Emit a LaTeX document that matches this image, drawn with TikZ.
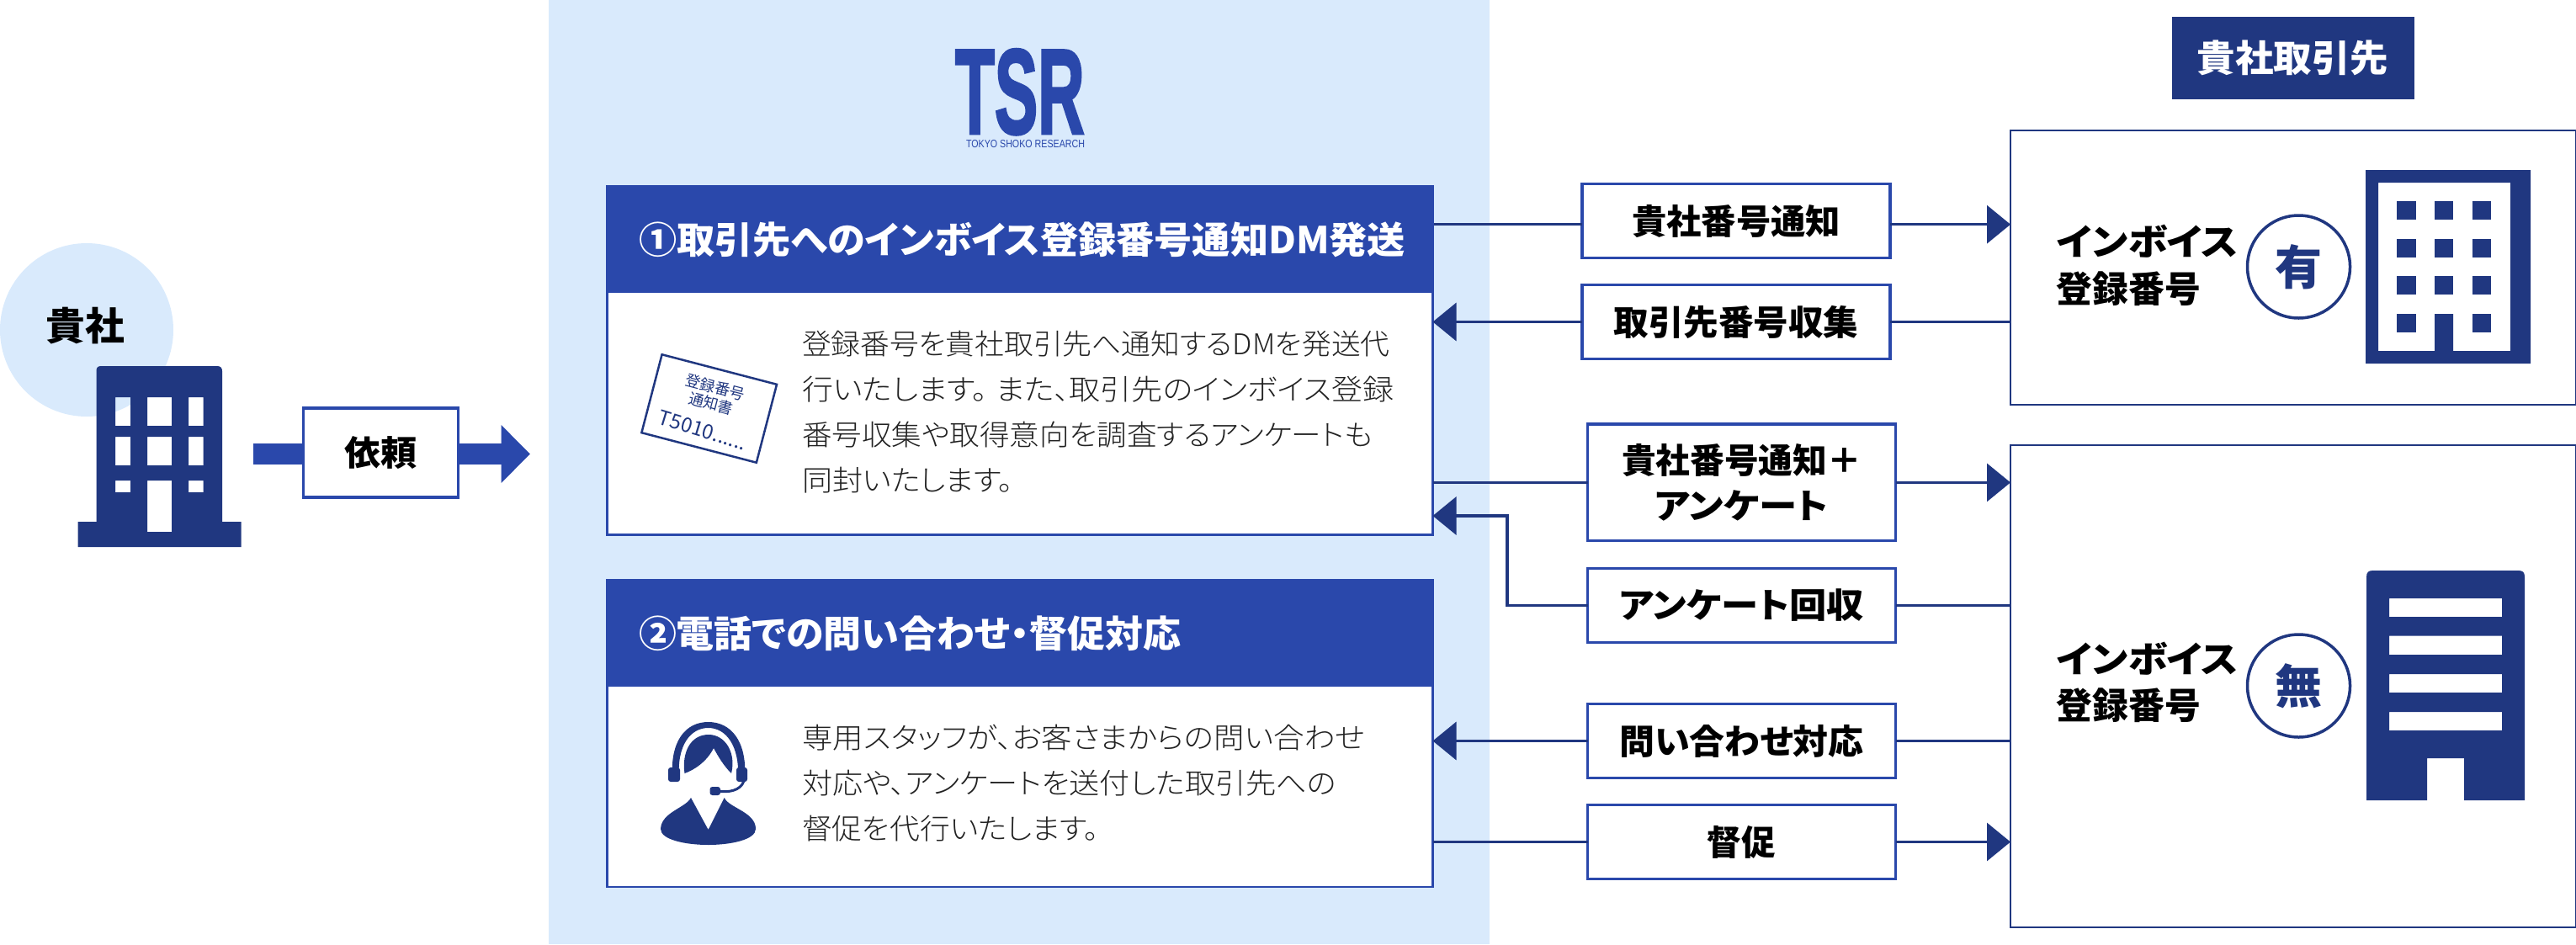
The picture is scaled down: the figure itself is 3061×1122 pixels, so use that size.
\documentclass[tikz,border=0pt]{standalone}
\usepackage{graphicx}
\usepackage{fontspec}
\usetikzlibrary{arrows.meta}
\setmainfont{Noto Sans CJK JP}[RawFeature=+palt]
\newfontfamily\logofont{Liberation Sans}
\newfontfamily\logoheavy{Liberation Sans}[BoldFeatures={FakeBold=2.5}]
\newfontfamily\lightjp{Noto Sans CJK JP Light}[RawFeature=+palt]
\definecolor{navy}{HTML}{203780}
\definecolor{royal}{HTML}{2A48AB}
\definecolor{pale}{HTML}{D9EAFC}
\definecolor{bodyink}{HTML}{222222}
\newcommand{\fitw}[2]{\resizebox{#1pt}{\height}{#2}}
\newcommand{\fs}[1]{\fontsize{#1}{#1}\selectfont}
\tikzset{
  every node/.style={inner sep=0pt,outer sep=0pt},
  lab/.style={draw=royal,line width=3.5pt,fill=white,align=center,text=black,font=\fs{41}\bfseries},
  frame/.style={draw=navy,line width=2.5pt,fill=white},
  card/.style={draw=royal,line width=2.5pt,fill=white},
  band/.style={fill=royal},
  headtext/.style={anchor=west,text=white,font=\fs{44}\bfseries},
  bodyline/.style={anchor=west,text=bodyink,font=\lightjp\fs{34}},
  invtext/.style={anchor=west,text=black,font=\fs{43}\bfseries},
  badge/.style={circle,draw=navy,line width=3.5pt,fill=white,minimum size=122pt,text=navy,font=\fs{56}\bfseries},
  wire/.style={draw=navy,line width=3.5pt},
  tipped/.style={wire,-{Triangle[length=28pt,width=45pt]}},
}
\begin{document}
\begin{tikzpicture}[x=1pt,y=-1pt]
\useasboundingbox (0,0) rectangle (3061,1122);
% panel
\node[fill=pale,minimum width=1118pt,minimum height=1122pt] (panel) at (1211,561) {};
% client circle and building
\node[circle,fill=pale,minimum size=206pt] (clientc) at (103,392) {};
\node[text=black,font=\fs{46}\bfseries] (clientt) at (101.5,386.7) {\fitw{93.5}{貴社}};
\fill[navy,even odd rule] (92.6,620) -- (114.5,620) -- (114.5,441) .. controls (114.5,437) and (116,435) .. (120,435) -- (258,435) .. controls (262,435) and (264,437) .. (264,441) -- (264,620) -- (286.6,620) -- (286.6,650) -- (92.6,650) -- cycle
  (137,472) rectangle (155,506) (175,472) rectangle (204,506) (224,472) rectangle (241.6,506)
  (137,519) rectangle (155,553) (175,519) rectangle (204,553) (224,519) rectangle (241.6,553)
  (137,571) rectangle (155,585) (175,571) rectangle (204,632) (224,571) rectangle (241.6,585);
% request arrow
\coordinate (reqs) at (300.5,539.5);
\coordinate (reqt) at (630,539.5);
\draw[royal,line width=25pt,-{Triangle[length=34.5pt,width=67pt]}] (reqs) -- (reqt);
\node[lab,minimum width=184pt,minimum height=106pt] (req) at (452.5,538) {\fitw{86}{依頼}};
% logo
\node[text=royal,anchor=south west] (logo) at (1135,160) {\resizebox{153.6pt}{100pt}{\logoheavy\bfseries TSR}};
\node[text=royal] (logosub) at (1218.5,171) {\fitw{141}{\logofont\fs{13}TOKYO SHOKO RESEARCH}};
% card 1
\node[card,minimum width=981pt,minimum height=414pt] (card1) at (1212,428.5) {};
\node[band,minimum width=984pt,minimum height=127.5pt] (hdr1) at (1212,283.75) {};
\node[headtext] (h1) at (759,285) {\fitw{911}{①取引先へのインボイス登録番号通知DM発送}};
\node[bodyline] (b11) at (953,409) {\fitw{698.5}{登録番号を貴社取引先へ通知するDMを発送代}};
\node[bodyline] (b12) at (953,463) {\fitw{703.6}{行いたします。\hspace{9pt}また、取引先のインボイス登録}};
\node[bodyline] (b13) at (953,517) {\fitw{678}{番号収集や取得意向を調査するアンケートも}};
\node[bodyline] (b14) at (953,571) {\fitw{251}{同封いたします。}};
% notice document
\node[draw=navy,line width=2.5pt,fill=white,minimum width=141pt,minimum height=96pt,rotate=-14.6] (doc) at (842.7,485.5) {};
\node[text=navy,rotate=-14.6,font=\fs{18}] (d1) at (850,460) {登録番号};
\node[text=navy,rotate=-14.6,font=\fs{18}] (d2) at (845,479.5) {通知書};
\node[text=navy,rotate=-17,font=\fs{24}] (d3) at (835,511) {T5010......};
% card 2
\node[card,minimum width=981pt,minimum height=365pt] (card2) at (1212,871.5) {};
\node[band,minimum width=984pt,minimum height=128pt] (hdr2) at (1212,752) {};
\node[headtext] (h2) at (759,753) {\fitw{644}{②電話での問い合わせ・督促対応}};
\node[bodyline] (b21) at (953,877) {\fitw{668.6}{専用スタッフが、お客さまからの問い合わせ}};
\node[bodyline] (b22) at (953,931) {\fitw{634.8}{対応や、アンケートを送付した取引先への}};
\node[bodyline] (b23) at (953,985) {\fitw{353}{督促を代行いたします。}};
% agent icon
\fill[navy] (799,925) .. controls (796,880) and (815,858) .. (841.6,858) .. controls (868,858) and (888,880) .. (885,925) -- (877,925) .. controls (879,885) and (862,865) .. (841.6,865) .. controls (821,865) and (804,885) .. (807,925) -- cycle;
\fill[navy] (848,889) .. controls (840,905) and (825,915) .. (813.5,919) .. controls (810,895) and (820,873) .. (842,873) .. controls (862,873) and (875,895) .. (869,919) .. controls (860,910) and (854,900) .. (848,889) -- cycle;
\fill[navy,rounded corners=3pt] (794,912) rectangle (808,929);
\fill[navy,rounded corners=3pt] (875,912) rectangle (888,929);
\draw[navy,line width=3pt] (884,928) .. controls (880,940) and (865,942) .. (853,940);
\fill[navy,rounded corners=3pt] (843.5,935) rectangle (856,945);
\fill[navy] (821,948) .. controls (815,960) and (786,965) .. (785,985) .. controls (785,998) and (815,1004) .. (841.6,1004) .. controls (868,1004) and (898,998) .. (898,985) .. controls (898,965) and (866,960) .. (860.7,948) -- (841.6,986) -- cycle;
% customers
\node[fill=navy,minimum width=288pt,minimum height=97.7pt,text=white,font=\fs{44}\bfseries] (cust) at (2724.5,68.85) {\fitw{227.7}{貴社取引先}};
\node[frame,minimum width=672pt,minimum height=326pt] (rb1) at (2725,318) {};
\node[frame,minimum width=672pt,minimum height=573pt] (rb2) at (2725,815.5) {};
\node[invtext] (i11) at (2443.5,287) {\fitw{216.5}{インボイス}};
\node[invtext] (i12) at (2443.5,342.7) {\fitw{171.5}{登録番号}};
\node[invtext] (i21) at (2443.5,783) {\fitw{216.5}{インボイス}};
\node[invtext] (i22) at (2443.5,838.4) {\fitw{171.5}{登録番号}};
\node[badge] (yes) at (2731.5,317) {\raisebox{3pt}{有}};
\node[badge] (no) at (2731.5,815) {\raisebox{3pt}{無}};
% company building (registered)
\fill[navy,even odd rule] (2811,202) rectangle (3007,432)
 (2826,217) -- (2983,217) -- (2983,417) -- (2915,417) -- (2915,373) -- (2893,373) -- (2893,417) -- (2826,417) -- cycle;
\foreach \yy in {239,283.7,328}{
  \fill[navy] (2848.4,\yy) rectangle +(22.6,22.4);
  \fill[navy] (2893,\yy) rectangle +(22.4,22.4);
  \fill[navy] (2937.7,\yy) rectangle +(22.4,22.4);
}
\fill[navy] (2848.4,373) rectangle +(22.6,22.4);
\fill[navy] (2937.7,373) rectangle +(22.4,22.4);
% company building (unregistered)
\fill[navy,even odd rule] (2812,951) -- (2812,686) .. controls (2812,680) and (2814,678) .. (2820,678) -- (2992,678) .. controls (2998,678) and (3000,680) .. (3000,686) -- (3000,951) -- (2928,951) -- (2928,901) -- (2884,901) -- (2884,951) -- cycle
 (2839,711) rectangle (2973,733) (2839,755.7) rectangle (2973,778) (2839,801) rectangle (2973,823) (2839,846) rectangle (2973,868);
% labels
\node[lab,minimum width=366pt,minimum height=88pt] (a) at (2063,262.7) {\fitw{248}{貴社番号通知}};
\node[lab,minimum width=366pt,minimum height=88pt] (b) at (2063,382.5) {\raisebox{2pt}{\fitw{291}{取引先番号収集}}};
\node[lab,minimum width=366pt,minimum height=138.5pt] (c) at (2069.5,573.4) {\fitw{285}{貴社番号通知＋}\\[13pt]\fitw{206.6}{アンケート}};
\node[lab,minimum width=366pt,minimum height=88pt] (d) at (2069.5,719.5) {\fitw{290.4}{アンケート回収}};
\node[lab,minimum width=366pt,minimum height=88pt] (e) at (2069.5,880.5) {\raisebox{2pt}{\fitw{290.4}{問い合わせ対応}}};
\node[lab,minimum width=366pt,minimum height=88pt] (f) at (2069.5,1000.5) {\fitw{81.6}{督促}};
% connectors
\draw[wire] ([yshift=-4pt]a.west -| hdr1.east) -- ([yshift=-4pt]a.west);
\draw[tipped] ([yshift=-4pt]a.east) -- ([yshift=-4pt]a.east -| rb1.west);
\draw[wire] (b.east) -- (b.east -| rb1.west);
\draw[tipped] (b.west) -- (b.west -| card1.east);
\draw[wire] (c.west -| card1.east) -- (c.west);
\draw[tipped] (c.east) -- (c.east -| rb2.west);
\draw[wire] (d.east) -- (d.east -| rb2.west);
\coordinate (elbow) at (1791,719.5);
\coordinate (elbowtop) at (1791,613);
\draw[wire,-{Triangle[length=28pt,width=45pt]},line join=miter] (d.west) -- (elbow) -- (elbowtop) -- (elbowtop -| card1.east);
\draw[wire] (e.east) -- (e.east -| rb2.west);
\draw[tipped] (e.west) -- (e.west -| card2.east);
\draw[wire] (f.west -| card2.east) -- (f.west);
\draw[tipped] (f.east) -- (f.east -| rb2.west);
\end{tikzpicture}
\end{document}
